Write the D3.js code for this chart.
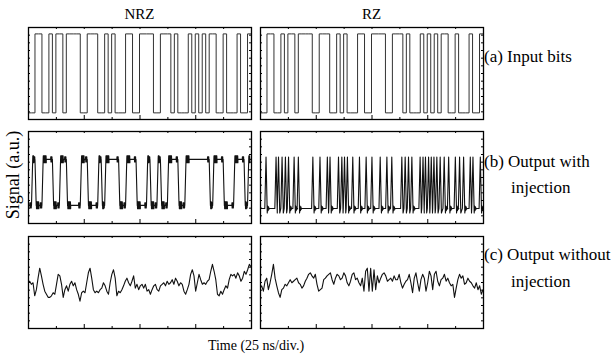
<!DOCTYPE html>
<html>
<head>
<meta charset="utf-8">
<script src="https://cdn.jsdelivr.net/npm/d3@7"></script>
<style>
  body { margin: 0; background: #fff; }
  text { font-family: "Liberation Serif", "Times New Roman", serif; fill: #000; }
</style>
</head>
<body>
<div id="chart"></div>
<script>
// ---- data ----
const columns = ["NRZ", "RZ"];
const rowLabels = [["(a) Input bits"], ["(b) Output with", "injection"], ["(c) Output without", "injection"]];
const xLabel = "Time (25 ns/div.)";
const yLabel = "Signal (a.u.)";

const timeSpan = 100;   // ns, 4 divisions of 25 ns
const nBits = 64;

// positions of "1" bits in the input pattern (same pattern shown for NRZ and RZ)
const inputOnes = [2,3,6,8,9,11,12,13,14,17,18,19,22,24,28,29,32,33,34,35,38,39,40,42,46,48,50,52,53,56,60,63];
// "1" bits of the NRZ output with injection
const nrzOutOnes = [1,4,5,6,9,10,15,16,20,22,23,24,25,28,29,30,34,37,40,41,42,45,46,47,48,49,50,51,53,54,55,59,60,61,63];
// peak times (ns) of the RZ output pulses with injection
const rzOutSpikes = [2.7,7.2,8.3,9.9,11.4,12.8,15.3,17.2,23.7,26.9,30.2,31.4,35.2,36.7,37.9,39.2,41.6,44.6,47.6,50.2,
  53.9,56.9,59.1,63.6,65.1,66.6,68.1,71.8,73.1,74.2,75.6,76.8,78.0,79.3,80.8,82.6,84.6,87.6,89.5,91.3,94.3,95.5,98.8];

// signal levels [low, high] in a.u. (panel axis runs 0..12)
const inputLevels = [0.8, 11.1];
const nrzOutLevels = [2.3, 8.3];
const rzOutLevels = [1.9, 8.6];

// outputs without injection, evenly sampled over the 100 ns window
const nrzNoise = [
  5.9,6.1,5.7,5.9,4.2,5.0,6.5,7.8,6.8,5.7, 4.8,4.4,4.0,4.0,4.2,4.6,4.4,5.7,7.0,6.8,
  5.7,4.0,5.0,5.5,4.8,5.7,6.1,5.5,5.9,5.0, 4.4,3.5,4.6,4.8,4.6,5.9,7.2,7.8,6.5,5.0,
  4.6,4.8,4.6,5.0,5.2,5.9,5.5,4.8,4.4,5.9, 7.0,7.6,6.5,4.2,4.8,4.6,5.0,5.5,6.1,6.5,
  5.9,5.5,6.1,6.8,5.2,5.7,5.0,5.5,5.7,5.2, 5.7,4.8,5.0,4.4,5.0,5.5,5.7,5.0,4.8,5.5,
  5.7,5.9,5.5,6.1,5.7,5.9,6.3,5.7,6.5,6.1, 5.5,5.9,5.7,4.8,4.4,5.0,5.7,7.0,7.6,6.8,
  4.8,5.9,7.0,6.3,5.7,5.9,5.7,6.1,6.3,7.4, 8.3,7.4,6.3,4.4,4.2,4.8,4.4,5.0,5.5,5.2,
  6.3,7.0,6.8,7.0,6.5,7.2,6.8,6.1,6.5,7.4, 7.0,7.6,8.3,8.0
];
const rzNoise = [
  5.2,5.5,4.8,6.1,6.5,5.0,5.9,7.0,8.3,6.5, 5.5,4.6,4.0,5.0,5.2,5.7,5.5,5.9,6.3,5.9,
  6.1,6.3,6.5,5.9,5.7,5.2,5.5,6.1,6.5,7.0, 7.2,6.8,6.5,7.0,5.7,4.8,5.0,5.2,6.3,6.5,
  6.8,7.0,7.2,6.3,5.7,6.5,7.0,6.8,6.3,6.5, 7.2,6.8,5.9,5.5,6.1,7.0,7.2,6.3,6.5,5.9,
  5.5,6.5,4.8,7.4,7.8,4.8,7.8,4.8,7.6,5.0, 6.8,5.9,6.5,7.0,7.2,6.8,6.1,6.3,6.5,6.1,
  6.8,6.3,6.3,7.0,5.9,5.2,5.7,6.1,6.3,7.0, 5.9,4.6,6.5,7.2,5.9,4.8,6.3,7.0,6.5,4.8,
  5.9,7.4,6.8,5.0,7.0,7.4,6.1,5.5,6.3,6.5, 7.0,6.1,6.5,5.9,5.5,5.7,4.0,5.2,6.3,7.0,
  6.5,6.8,5.7,5.9,6.5,6.1,5.9,5.5,5.2,5.9, 5.0,5.5,4.4,5.0
];

// ---- layout ----
const width = 614, height = 362;
const colX = [28, 260], rowY = [27, 131, 236];
const panelW = 223, panelH = 92;

const svg = d3.select("#chart").append("svg")
  .attr("width", width).attr("height", height);

const bt = timeSpan / nBits;

// square NRZ waveform
function stepTrace(ones, lv) {
  const set = new Set(ones), pts = [];
  for (let i = 0; i < nBits; i++) {
    const L = set.has(i) ? lv[1] : lv[0];
    pts.push([i * bt, L], [(i + 1) * bt, L]);
  }
  return pts;
}

// NRZ output: finite edges, ringing blob at both ends of every run
function nrzTrace(ones, lv) {
  const set = new Set(ones), pts = [];
  const lvl = i => set.has(i) ? lv[1] : lv[0];
  const wiggle = (L, a, b, amp) => {
    for (let k = 0, t = a; t < b; k++, t += 0.09) pts.push([t, L + (k % 2 ? -amp : amp)]);
    pts.push([b, L]);
  };
  let s = 0;
  while (s < nBits) {
    let e = s;
    while (e < nBits && lvl(e) === lvl(s)) e++;
    const L = lvl(s);
    const t0 = s * bt + (s ? 0.35 * bt : 0), t3 = e * bt;
    const mid = (t0 + t3) / 2;
    pts.push([t0, L]);
    if (s) wiggle(L, t0 + 0.05, Math.min(t0 + 0.9 * bt, mid), 0.45);
    if (e < nBits) {
      const a = Math.max(t3 - 0.5 * bt, mid);
      pts.push([a, L]);
      wiggle(L, a + 0.05, t3 - 0.05, 0.35);
    }
    pts.push([t3, L]);
    s = e;
  }
  return pts;
}

// RZ output: short triangular pulses with undershoot
function rzTrace(spikes, lv) {
  const pts = [[0, lv[0]]];
  spikes.forEach((t, i) => {
    const next = i < spikes.length - 1 ? spikes[i + 1] : timeSpan + 5;
    pts.push([t - 0.55, lv[0]], [t, lv[1]], [t + 0.55, lv[0] - 0.6]);
    if (next - t > 1.8) {
      pts.push([t + 0.75, lv[0] + 0.3], [t + 0.95, lv[0] - 0.3], [t + 1.15, lv[0] + 0.2], [t + 1.35, lv[0] - 0.1], [t + 1.55, lv[0]]);
    }
  });
  pts.push([timeSpan, lv[0]]);
  return pts;
}

const evenTrace = vals => vals.map((v, i) => [i * timeSpan / (vals.length - 1), v]);

const traces = [
  [stepTrace(inputOnes, inputLevels), stepTrace(inputOnes, inputLevels)],
  [nrzTrace(nrzOutOnes, nrzOutLevels), rzTrace(rzOutSpikes, rzOutLevels)],
  [evenTrace(nrzNoise), evenTrace(rzNoise)]
];

const x = d3.scaleLinear().domain([0, timeSpan]).range([0, panelW]);
const y = d3.scaleLinear().domain([0, 12]).range([panelH, 0]);
const line = d3.line().x(d => x(d[0])).y(d => y(d[1]));

const majorX = [25, 50, 75], minorX = [12.5, 37.5, 62.5, 87.5];
const yTicks = d3.range(1, 12);

svg.append("defs").append("clipPath").attr("id", "clip")
  .append("rect").attr("width", panelW).attr("height", panelH);

rowY.forEach((ry, r) => {
  colX.forEach((cx, c) => {
    const g = svg.append("g").attr("transform", `translate(${cx},${ry})`);

    g.append("path")
      .datum(traces[r][c])
      .attr("clip-path", "url(#clip)")
      .attr("fill", "none")
      .attr("stroke", r === 0 ? "#333" : "#111")
      .attr("stroke-width", r === 0 ? 1 : 1.1)
      .attr("stroke-linejoin", "round")
      .attr("d", line);

    const ax = (axis, tr) => g.append("g").attr("transform", tr).call(axis)
      .call(a => a.select(".domain").remove())
      .call(a => a.selectAll("line").attr("stroke", "#000"));
    ax(d3.axisBottom(x).tickValues(majorX).tickSize(-4).tickFormat(""), `translate(0,${panelH})`);
    ax(d3.axisBottom(x).tickValues(minorX).tickSize(-2).tickFormat(""), `translate(0,${panelH})`);
    ax(d3.axisTop(x).tickValues(majorX.concat(minorX)).tickSize(-2).tickFormat(""), "translate(0,0)");
    ax(d3.axisLeft(y).tickValues(yTicks).tickSize(-2).tickFormat(""), "translate(0,0)");
    ax(d3.axisRight(y).tickValues(yTicks).tickSize(-2).tickFormat(""), `translate(${panelW},0)`);

    g.append("rect")
      .attr("x", 0.5).attr("y", 0.5)
      .attr("width", panelW).attr("height", panelH)
      .attr("fill", "none").attr("stroke", "#000").attr("stroke-width", 1.3);
  });
});

// column titles
columns.forEach((t, c) => {
  svg.append("text")
    .attr("x", colX[c] + panelW / 2).attr("y", 19)
    .attr("text-anchor", "middle").attr("font-size", 15)
    .text(t);
});

// row labels on the right
const labelY = [[62], [167, 193], [260, 287]];
rowLabels.forEach((lines, r) => {
  lines.forEach((t, i) => {
    svg.append("text")
      .attr("x", i === 0 ? 484 : 511)
      .attr("y", labelY[r][i])
      .attr("font-size", 17)
      .text(t);
  });
});

svg.append("text")
  .attr("x", 256).attr("y", 350)
  .attr("text-anchor", "middle").attr("font-size", 14)
  .text(xLabel);

svg.append("text")
  .attr("transform", "translate(19,175) rotate(-90)")
  .attr("text-anchor", "middle").attr("font-size", 18)
  .text(yLabel);
</script>
</body>
</html>
